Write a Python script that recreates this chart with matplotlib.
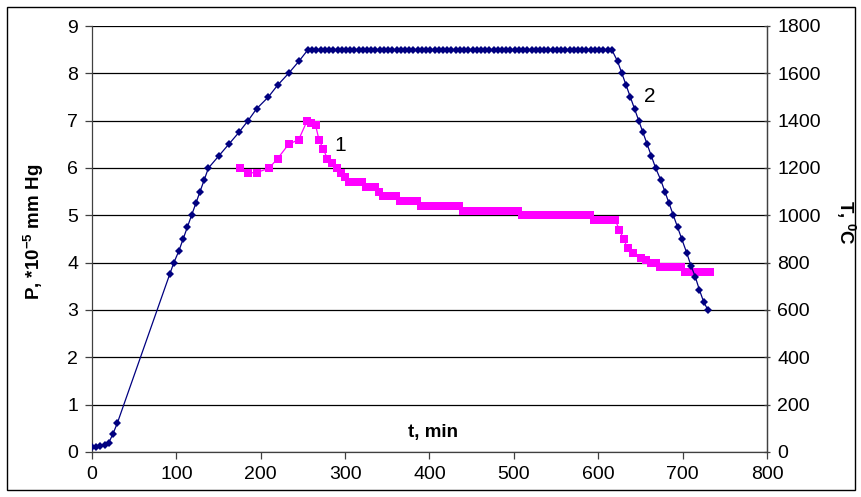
import numpy as np
import matplotlib.pyplot as plt
from matplotlib.patches import Rectangle

plt.rcParams['font.family'] = ['Liberation Sans', 'DejaVu Sans']
plt.rcParams['mathtext.fontset'] = 'custom'
plt.rcParams['mathtext.rm'] = 'Liberation Sans'
plt.rcParams['mathtext.bf'] = 'Liberation Sans:bold'

# curve 2: temperature, deg C
t_temp = [0, 5, 10, 15, 20, 25, 30,
          92, 97, 103, 108, 113, 118, 123, 128, 133, 138,
          150, 162, 174, 185, 195, 209, 220, 233, 245, 256,
          261, 266, 271, 276, 281, 286, 291, 296, 301, 306, 311, 316, 321, 326,
          331, 336, 341, 346, 351, 356, 361, 366, 371, 376, 381, 386, 391, 396,
          401, 406, 411, 416, 421, 426, 431, 436, 441, 446, 451, 456, 461, 466,
          471, 476, 481, 486, 491, 496, 501, 506, 511, 516, 521, 526, 531, 536,
          541, 546, 551, 556, 561, 566, 571, 576, 581, 586, 591, 596, 601, 606,
          611, 616,
          623, 628, 633, 638, 643, 648, 653, 658, 663, 668, 674, 679, 684, 689,
          694, 699, 705, 710, 715, 720, 725, 730]
temp = [22, 22, 26, 30, 40, 78, 122,
        750, 800, 850, 900, 950, 1000, 1050, 1100, 1150, 1200,
        1250, 1300, 1350, 1400, 1450, 1500, 1550, 1600, 1650, 1700] + [1700] * 72 + \
       [1650, 1600, 1550, 1500, 1450, 1400, 1350, 1300, 1250, 1200, 1150, 1100,
        1050, 1000, 950, 900, 840, 786, 740, 684, 634, 600]

# curve 1: pressure, *10^-5 mm Hg
t_p = [175, 185, 195, 210, 220, 233, 245, 255, 260, 265, 269, 274, 279, 285, 290,
       295, 300, 305, 310, 315, 320, 325, 330, 335, 340, 345, 350, 355, 360,
       365, 370, 375, 380, 385, 390, 395, 400, 405, 410, 415, 420, 425, 430, 435,
       440, 445, 450, 455, 460, 465, 470, 475, 480, 485, 490, 495, 500, 505,
       510, 515, 520, 525, 530, 535, 540, 545, 550, 555, 560, 565, 570, 575,
       580, 585, 590, 595, 600, 605, 610, 615, 620, 625, 630, 635, 641, 651,
       657, 663, 668, 673, 678, 683, 688, 693, 698, 703, 708, 713, 718, 723, 728, 732]
pres = [6.0, 5.9, 5.9, 6.0, 6.2, 6.5, 6.6, 7.0, 6.95, 6.9, 6.6, 6.4, 6.2, 6.1, 6.0,
        5.9, 5.8, 5.7, 5.7, 5.7, 5.7, 5.6, 5.6, 5.6, 5.5, 5.4, 5.4, 5.4, 5.4,
        5.3, 5.3, 5.3, 5.3, 5.3, 5.2, 5.2, 5.2, 5.2, 5.2, 5.2, 5.2, 5.2, 5.2, 5.2,
        5.1, 5.1, 5.1, 5.1, 5.1, 5.1, 5.1, 5.1, 5.1, 5.1, 5.1, 5.1, 5.1, 5.1,
        5.0, 5.0, 5.0, 5.0, 5.0, 5.0, 5.0, 5.0, 5.0, 5.0, 5.0, 5.0, 5.0, 5.0,
        5.0, 5.0, 5.0, 4.9, 4.9, 4.9, 4.9, 4.9, 4.9, 4.7, 4.5, 4.3, 4.2, 4.1,
        4.05, 4.0, 4.0, 3.9, 3.9, 3.9, 3.9, 3.9, 3.9, 3.8, 3.8, 3.8, 3.8, 3.8, 3.8, 3.8]

fig = plt.figure(figsize=(8.62, 4.97), dpi=100)
W, H = 862, 497
ax = fig.add_axes([92 / W, 1 - 452 / H, (767 - 92) / W, (452 - 26) / H])
ax2 = ax.twinx()

ax.set_xlim(0, 800)
ax.set_ylim(0, 9)
ax2.set_ylim(0, 1800)
ax.set_xticks(range(0, 801, 100))
ax.set_yticks(range(0, 10))
ax2.set_yticks(range(0, 1801, 200))

ax.grid(axis='y', color='black', linewidth=0.9)
ax.set_axisbelow(True)
ax.spines['top'].set_visible(False)
ax2.spines['top'].set_visible(False)
ax2.spines['left'].set_visible(False)
ax2.spines['bottom'].set_visible(False)
for a in (ax, ax2):
    for s in a.spines.values():
        s.set_color('#404040')
        s.set_linewidth(0.9)
ax.tick_params(labelsize=14, length=5, width=0.9, colors='#404040', labelcolor='black', pad=5)
ax2.tick_params(labelsize=14, length=5, width=0.9, colors='#404040', labelcolor='black', pad=5,
                direction='inout')

ax.plot(t_p, pres, color='#ff00ff', linewidth=0.9, marker='s', markersize=6.2,
        markeredgewidth=0, zorder=3)
ax2.plot(t_temp, temp, color='#000080', linewidth=0.9, marker='D', markersize=4.4,
         markeredgewidth=0, zorder=3)

ax.text(294, 6.48, '1', fontsize=15, ha='center', va='center')
ax2.text(661, 1504, '2', fontsize=15, ha='center', va='center')

fig.text(34 / W, 1 - 232 / H, r'P, *10$^{\mathbf{-5}}$ mm Hg', rotation=90, fontsize=13.5,
         fontweight='bold', ha='center', va='center')
fig.text(433 / W, 1 - 432 / H, 't, min', fontsize=13.5, fontweight='bold',
         ha='center', va='center')
fig.text(846 / W, 1 - 222 / H, r'T, $^{\mathbf{0}}$C', rotation=-90, fontsize=13.5,
         fontweight='bold', ha='center', va='center')

fig.patches.append(Rectangle((7 / W, 7 / H), (855 - 7) / W, (490 - 7) / H,
                             transform=fig.transFigure, fill=False,
                             edgecolor='black', linewidth=1))

fig.savefig('out.png', dpi=100)
